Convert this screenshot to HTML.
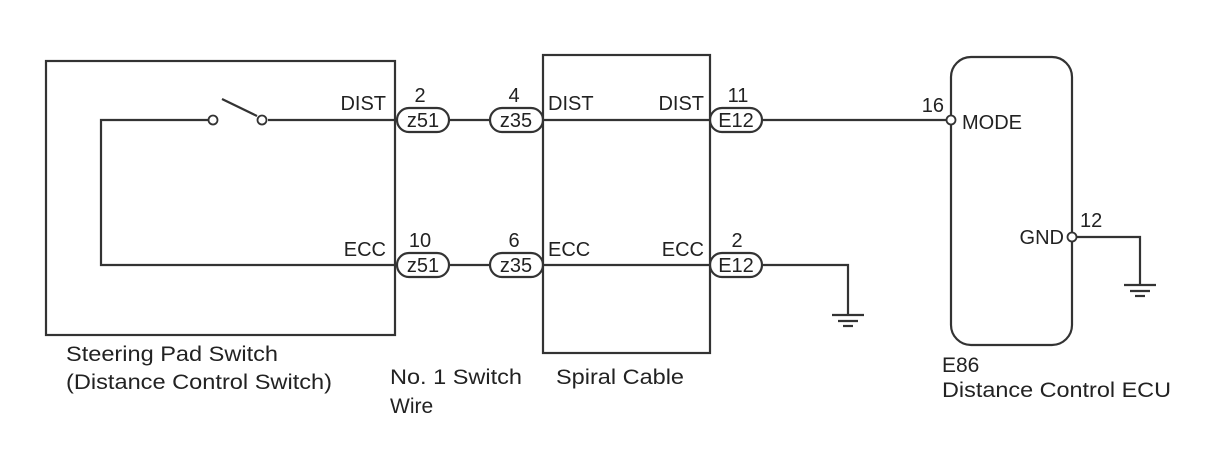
<!DOCTYPE html>
<html><head><meta charset="utf-8"><style>
html,body{margin:0;padding:0;background:#fff;}
svg{display:block;}
text{font-family:"Liberation Sans",Arial,sans-serif;fill:#222;}
.m{font-size:20px;}
.b{font-size:21px;}
.p{font-size:20px;}
</style></head><body>
<svg width="1210" height="474" viewBox="0 0 1210 474" xmlns="http://www.w3.org/2000/svg">
<g fill="none" stroke="#333" stroke-width="2.2">
<rect x="46" y="61" width="349" height="274"/>
<polyline points="213,120 101,120 101,265 395,265"/>
<line x1="222" y1="99" x2="257" y2="116"/>
<line x1="268" y1="120" x2="395" y2="120"/>
<rect x="543" y="55" width="167" height="298"/>
<line x1="449" y1="120" x2="490" y2="120"/>
<line x1="449" y1="265" x2="490" y2="265"/>
<line x1="543" y1="120" x2="710" y2="120"/>
<line x1="543" y1="265" x2="710" y2="265"/>
<line x1="762" y1="120" x2="947" y2="120"/>
<polyline points="762,265 848,265 848,315"/>
<rect x="951" y="57" width="121" height="288" rx="20" ry="20"/>
<polyline points="1076,237 1140,237 1140,285"/>
<line x1="832" y1="315" x2="864" y2="315"/>
<line x1="838" y1="321" x2="858" y2="321"/>
<line x1="843" y1="326" x2="853" y2="326"/>
<line x1="1124" y1="285" x2="1156" y2="285"/>
<line x1="1130" y1="291" x2="1150" y2="291"/>
<line x1="1135" y1="296" x2="1145" y2="296"/>
<rect x="397" y="108" width="52" height="24" rx="12"/>
<rect x="490" y="108" width="53" height="24" rx="12"/>
<rect x="710" y="108" width="52" height="24" rx="12"/>
<rect x="397" y="253" width="52" height="24" rx="12"/>
<rect x="490" y="253" width="53" height="24" rx="12"/>
<rect x="710" y="253" width="52" height="24" rx="12"/>
</g>
<g fill="#fff" stroke="#333" stroke-width="1.8">
<circle cx="213" cy="120" r="4.5"/>
<circle cx="262" cy="120" r="4.5"/>
<circle cx="951" cy="120" r="4.5"/>
<circle cx="1072" cy="237" r="4.5"/>
</g>
<text class="p" x="423" y="127" text-anchor="middle">z51</text>
<text class="p" x="516" y="127" text-anchor="middle">z35</text>
<text class="p" x="736" y="127" text-anchor="middle">E12</text>
<text class="p" x="423" y="272" text-anchor="middle">z51</text>
<text class="p" x="516" y="272" text-anchor="middle">z35</text>
<text class="p" x="736" y="272" text-anchor="middle">E12</text>
<text class="m" x="420" y="102" text-anchor="middle">2</text>
<text class="m" x="514" y="102" text-anchor="middle">4</text>
<text class="m" x="738" y="102" text-anchor="middle">11</text>
<text class="m" x="420" y="247" text-anchor="middle">10</text>
<text class="m" x="514" y="247" text-anchor="middle">6</text>
<text class="m" x="737" y="247" text-anchor="middle">2</text>
<text class="m" x="386" y="110" text-anchor="end">DIST</text>
<text class="m" x="548" y="110">DIST</text>
<text class="m" x="704" y="110" text-anchor="end">DIST</text>
<text class="m" x="386" y="256" text-anchor="end">ECC</text>
<text class="m" x="548" y="256">ECC</text>
<text class="m" x="704" y="256" text-anchor="end">ECC</text>
<text class="m" x="944" y="112" text-anchor="end">16</text>
<text class="m" x="962" y="129">MODE</text>
<text class="m" x="1064" y="244" text-anchor="end">GND</text>
<text class="m" x="1080" y="227">12</text>
<text class="b" x="66" y="361" textLength="212" lengthAdjust="spacingAndGlyphs">Steering Pad Switch</text>
<text class="b" x="66" y="389" textLength="266" lengthAdjust="spacingAndGlyphs">(Distance Control Switch)</text>
<text class="b" x="390" y="384" textLength="132" lengthAdjust="spacingAndGlyphs">No. 1 Switch</text>
<text class="b" x="390" y="413">Wire</text>
<text class="b" x="556" y="384" textLength="128" lengthAdjust="spacingAndGlyphs">Spiral Cable</text>
<text class="b" x="942" y="372">E86</text>
<text class="b" x="942" y="397" textLength="229" lengthAdjust="spacingAndGlyphs">Distance Control ECU</text>
</svg>
</body></html>
